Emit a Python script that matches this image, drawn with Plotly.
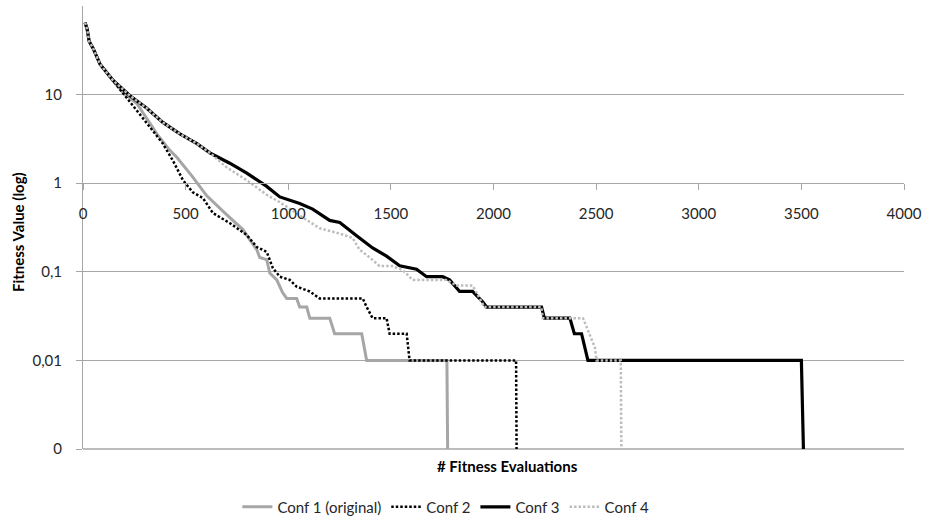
import plotly.graph_objects as go

# ---- data ----
ZERO = 0.0001  # "0" on the log axis: curves fall below the bottom of the plot

conf1_x = [10, 20, 30, 50, 83, 146, 195, 263, 360, 423, 457, 535, 603, 701, 779, 847, 861, 895, 910,
           944, 973, 993, 1041, 1056, 1090, 1105, 1202, 1226, 1358, 1382, 1773, 1780]
conf1_y = [65, 55, 40, 33, 22, 14.5, 10.5, 7.9, 3.6, 2.35, 1.96, 1.17, 0.72, 0.44, 0.30, 0.177, 0.145,
           0.137, 0.097, 0.081, 0.058, 0.05, 0.05, 0.04, 0.04, 0.03, 0.03, 0.02, 0.02, 0.01, 0.01, ZERO]

conf2_x = [10, 20, 30, 50, 83, 146, 195, 263, 326, 389, 438, 487, 535, 584, 633, 715, 798, 847, 895,
           925, 959, 1007, 1041, 1105, 1153, 1363, 1382, 1411, 1479, 1494, 1577, 1591, 2110, 2115]
conf2_y = [65, 55, 40, 33, 22, 14.5, 10.3, 6.6, 4.3, 2.8, 1.8, 1.08, 0.79, 0.68, 0.46, 0.355, 0.26,
           0.19, 0.168, 0.11, 0.088, 0.081, 0.068, 0.06, 0.05, 0.05, 0.04, 0.03, 0.03, 0.02, 0.02,
           0.01, 0.01, ZERO]

conf3_x = [10, 20, 30, 50, 83, 146, 229, 311, 389, 472, 555, 618, 715, 798, 895, 959, 1056, 1119,
           1202, 1251, 1333, 1411, 1479, 1543, 1625, 1674, 1752, 1786, 1835, 1898, 1947, 1966, 2234,
           2248, 2372, 2394, 2429, 2460, 3500, 3520]
conf3_y = [65, 55, 40, 33, 22, 14.5, 9.7, 7.0, 4.85, 3.6, 2.8, 2.2, 1.68, 1.30, 0.92, 0.70, 0.59,
           0.51, 0.38, 0.36, 0.255, 0.186, 0.15, 0.117, 0.107, 0.088, 0.088, 0.081, 0.06, 0.06,
           0.046, 0.04, 0.04, 0.03, 0.03, 0.02, 0.02, 0.01, 0.01, ZERO]

conf4_x = [10, 20, 30, 50, 83, 146, 229, 311, 389, 472, 555, 618, 700, 798, 895, 959, 1071, 1153,
           1251, 1314, 1348, 1382, 1445, 1509, 1557, 1606, 1771, 1820, 1898, 1956, 2233, 2240, 2436,
           2453, 2469, 2494, 2502, 2620, 2626]
conf4_y = [65, 55, 40, 33, 22, 14.5, 9.7, 7.0, 4.85, 3.6, 2.8, 2.2, 1.51, 1.08, 0.74, 0.61, 0.41,
           0.31, 0.27, 0.24, 0.177, 0.155, 0.116, 0.116, 0.105, 0.081, 0.081, 0.07, 0.07, 0.04,
           0.04, 0.03, 0.03, 0.024, 0.02, 0.014, 0.01, 0.01, ZERO]

series_names = ["Conf 1 (original)", "Conf 2", "Conf 3", "Conf 4"]

y_tickvals = [0.001, 0.01, 0.1, 1, 10]
y_ticktext = ["0", "0,01", "0,1", "1", "10"]

x_title = "# Fitness Evaluations"
y_title = "Fitness Value (log)"

# ---- styles ----
FONT = "Lato, 'Open Sans', sans-serif"
FS = 15
TXT = "#262626"
GRID = "#a6a6a6"

styles = [
    dict(color="#a6a6a6", width=3, dash="solid"),
    dict(color="#000000", width=2.5, dash="2.5px,2px"),
    dict(color="#000000", width=3.2, dash="solid"),
    dict(color="#bdbdbd", width=2.5, dash="2.5px,2px"),
]

fig = go.Figure()
for name, xs, ys, st in zip(series_names,
                            [conf1_x, conf2_x, conf3_x, conf4_x],
                            [conf1_y, conf2_y, conf3_y, conf4_y],
                            styles):
    fig.add_trace(go.Scatter(x=xs, y=ys, mode="lines", name=name, line=st))

fig.update_layout(
    width=927, height=522,
    margin=dict(l=83, r=23, t=6, b=73, autoexpand=False),
    paper_bgcolor="white", plot_bgcolor="white",
    font=dict(family=FONT, size=FS, color=TXT),
    showlegend=True,
    legend=dict(orientation="h", x=0.442, xanchor="center", y=-0.131, yanchor="middle",
                font=dict(family=FONT, size=FS, color=TXT), itemwidth=30,
                bgcolor="rgba(0,0,0,0)"),
    xaxis=dict(range=[0, 4000], tick0=0, dtick=500, anchor="free", position=0.6,
               showgrid=False, zeroline=False, showline=True, linecolor=GRID, linewidth=1,
               ticks="outside", ticklen=6, tickcolor=GRID, ticklabelstandoff=11,
               tickfont=dict(family=FONT, size=FS, color=TXT)),
    yaxis=dict(type="log", range=[-3, 2], tickvals=y_tickvals, ticktext=y_ticktext,
               showgrid=True, gridcolor=GRID, gridwidth=1, showline=True, linecolor=GRID,
               linewidth=1, ticks="outside", ticklen=6, tickcolor=GRID, ticklabelstandoff=11,
               tickfont=dict(family=FONT, size=FS, color=TXT)),
    shapes=[dict(type="line", xref="paper", yref="paper", x0=0, x1=1, y0=0, y1=0,
                 line=dict(color=GRID, width=1.5), layer="below")],
    annotations=[
        dict(text="<b>" + x_title + "</b>", xref="paper", yref="paper", x=0.517, y=-0.038,
             xanchor="center", yanchor="middle", showarrow=False,
             font=dict(family=FONT, size=FS, color="#000")),
        dict(text="<b>" + y_title + "</b>", xref="paper", yref="paper", x=-0.079, y=0.49,
             xanchor="center", yanchor="middle", textangle=-90, showarrow=False,
             font=dict(family=FONT, size=FS, color="#000")),
    ],
)

fig.write_html("out.html",
               config={"displayModeBar": False},
               post_script="document.body.style.margin='0';document.body.style.padding='0';")
